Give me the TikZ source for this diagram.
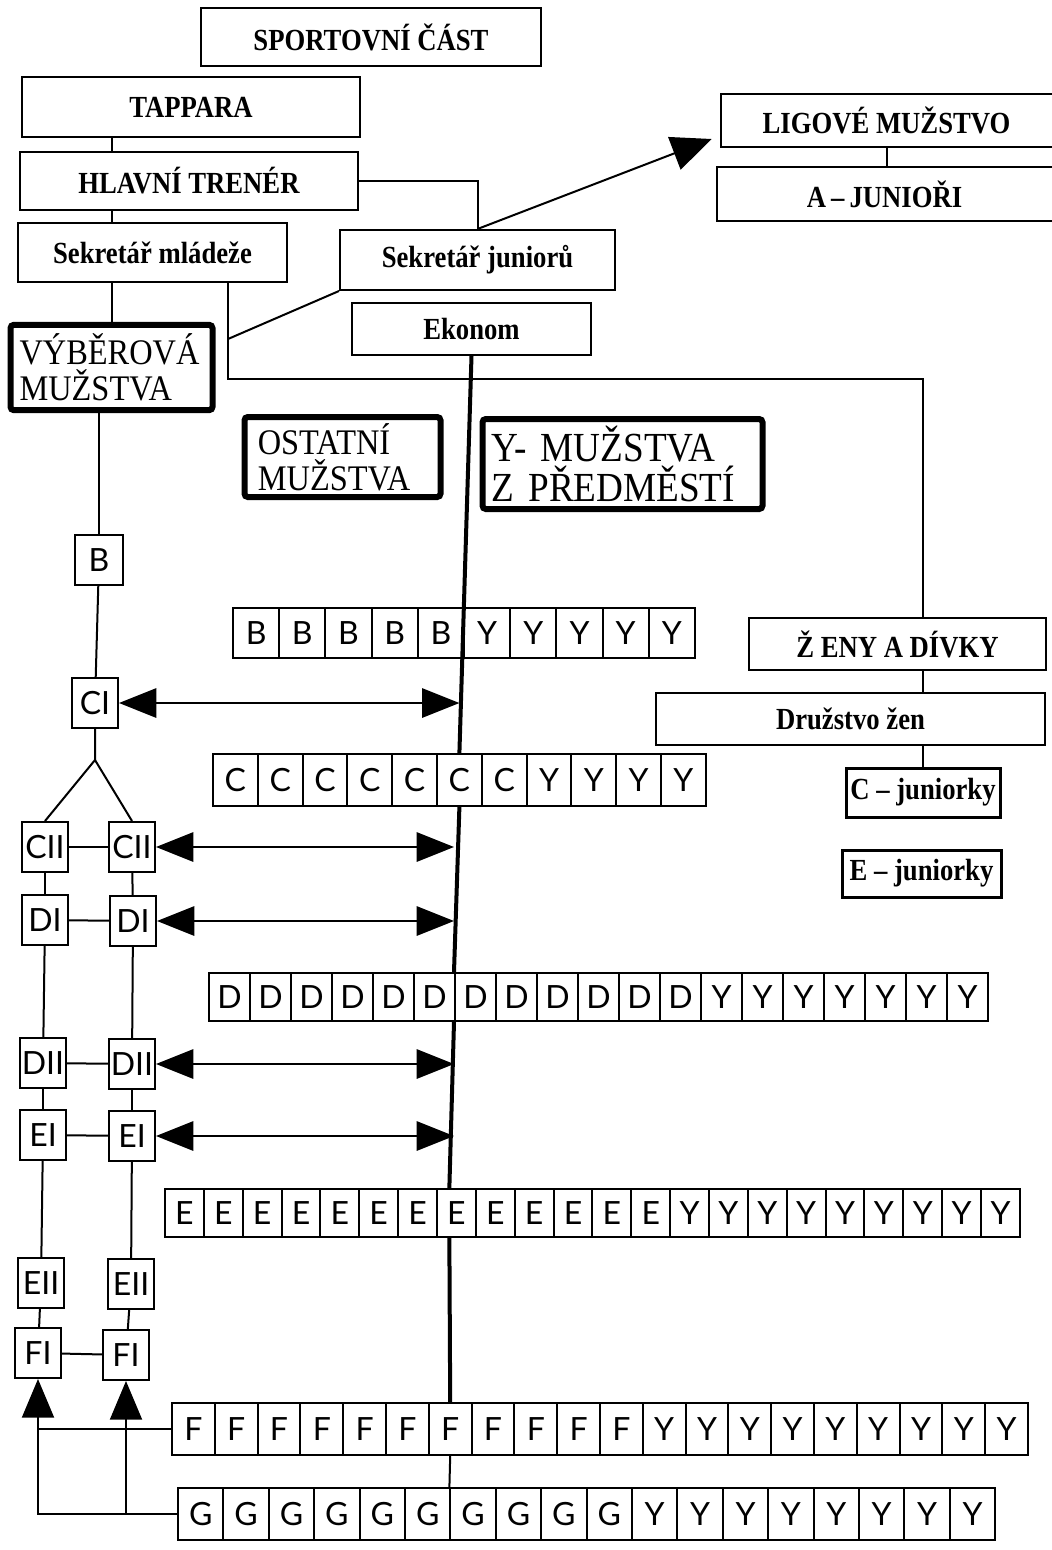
\documentclass[tikz,border=0pt]{standalone}
\usepackage{fontspec}
\setmainfont{Liberation Serif}
\newfontfamily\headfont[FakeStretch=0.87,Ligatures=TeX]{Liberation Serif}
\newfontfamily\bigfont[FakeStretch=0.9,Ligatures=TeX]{Liberation Serif}
\newfontfamily\cellfont{Lato}
\usetikzlibrary{arrows.meta}

\tikzset{every picture/.style={line width=1.5pt}}
\tikzset{
  hbox/.style={draw, fill=white, inner sep=0pt, font=\headfont\bfseries\fontsize{23}{25}\selectfont},
  thickbox/.style={draw, fill=white, line width=4.5pt, rounded corners=2.5pt, align=left, inner ysep=0pt, font=\bigfont\fontsize{27}{27}\selectfont},
  cell/.style={draw, fill=white, inner sep=0pt, font=\cellfont\fontsize{24}{24}\selectfont},
  lbox/.style={draw, fill=white, inner sep=0pt, minimum width=34.5pt, minimum height=37.5pt, font=\cellfont\fontsize{24}{24}\selectfont},
  dblarrow/.style={{Triangle[length=28pt,width=22pt]}-{Triangle[length=28pt,width=22pt]}},
  uptip/.style={-{Triangle[length=29pt,width=24pt]}},
  trunkline/.style={line width=3pt}
}

\begin{document}
\begin{tikzpicture}[x=0.75pt,y=0.75pt,yscale=-1,xscale=1]
	\useasboundingbox (0,0) rectangle (1051,1550);
	
	% Text Node
	\node [hbox, minimum width=255pt, minimum height=43.5pt] (sport) at (371,37) {SPORTOVNÍ ČÁST};
	% Text Node
	\node [hbox, minimum width=253.5pt, minimum height=45pt] (tap) at (191,107) {TAPPARA};
	% Text Node
	\node [hbox, minimum width=253.5pt, minimum height=43.5pt] (hl) at (189,181) {HLAVNÍ TRENÉR};
	% Text Node
	\node [hbox, minimum width=201.75pt, minimum height=44.25pt] (sm) at (152.5,252.5) {Sekretář mládeže};
	% Text Node
	\node [hbox, minimum width=206.25pt, minimum height=45pt] (sj) at (477.5,260) {Sekretář juniorů};
	% Text Node
	\node [hbox, minimum width=179.25pt, minimum height=39pt] (ekonom) at (471.5,329) {Ekonom};
	% Text Node (open at the right edge)
	\node [hbox, draw=none, minimum width=246.75pt, minimum height=38.25pt] (lig) at (886.5,120.5) {LIGOVÉ MUŽSTVO};
	\draw (lig.north east) -| (lig.south west) -- (lig.south east);
	% Text Node (open at the right edge)
	\node [hbox, draw=none, minimum width=249.75pt, minimum height=39pt] (aj) at (884.5,194) {A\,--\,JUNIOŘI};
	\draw (aj.north east) -| (aj.south west) -- (aj.south east);
	% Text Node
	\node [hbox, minimum width=222.75pt, minimum height=39pt] (zeny) at (897.5,644) {Ž ENY A DÍVKY};
	% Text Node
	\node [hbox, minimum width=291.75pt, minimum height=39pt] (dz) at (850.5,719) {Družstvo žen};
	% Text Node
	\node [hbox, line width=2.25pt, minimum width=115.5pt, minimum height=36.75pt] (cj) at (923,792.5) {C -- juniorky};
	% Text Node
	\node [hbox, line width=2.25pt, minimum width=119.25pt, minimum height=35.25pt] (ej) at (921.5,873.5) {E -- juniorky};
	
	% Thick boxes
	\node [thickbox, text width=138pt, inner xsep=6.75pt, minimum height=64pt] (vyb) at (111.5,367.5) {VÝBĚROVÁ\\MUŽSTVA};
	\node [thickbox, text width=127pt, inner xsep=10pt, minimum height=60pt] (ost) at (342.5,457) {OSTATNÍ\\MUŽSTVA};
	\node [thickbox, text width=196pt, inner xsep=7pt, minimum height=67.5pt, font=\bigfont\fontsize{31}{30}\selectfont] (ym) at (622.5,464) {Y- MUŽSTVA\\Z PŘEDMĚSTÍ};
	
	% Left column
	\node [lbox, minimum width=36pt] (bb) at (99,560) {B};
	\node [lbox] (cI) at (95,703) {CI};
	\node [lbox] (cIIa) at (45,847) {CII};
	\node [lbox] (cIIb) at (132,847) {CII};
	\node [lbox] (dIa) at (45,920) {DI};
	\node [lbox] (dIb) at (133,921) {DI};
	\node [lbox] (dIIa) at (43,1063) {DII};
	\node [lbox] (dIIb) at (132,1064) {DII};
	\node [lbox] (eIa) at (43,1135) {EI};
	\node [lbox] (eIb) at (132,1136) {EI};
	\node [lbox] (eIIa) at (41,1283) {EII};
	\node [lbox] (eIIb) at (131,1284) {EII};
	\node [lbox] (fIa) at (38,1353) {FI};
	\node [lbox] (fIb) at (126,1355) {FI};
	
	% Rows of teams
	\foreach \lt [count=\i] in {B,B,B,B,B,Y,Y,Y,Y,Y}
		\node [cell, minimum width=34.65pt, minimum height=37.5pt] (b\i) at ({233+46.2*(\i-0.5)},633) {\lt};
	\foreach \lt [count=\i] in {C,C,C,C,C,C,C,Y,Y,Y,Y}
		\node [cell, minimum width=33.6pt, minimum height=39pt] (c\i) at ({213+44.8*(\i-0.5)},780) {\lt};
	\foreach \lt [count=\i] in {D,D,D,D,D,D,D,D,D,D,D,D,Y,Y,Y,Y,Y,Y,Y}
		\node [cell, minimum width=30.75pt, minimum height=36pt] (d\i) at ({209+41*(\i-0.5)},997) {\lt};
	\foreach \lt [count=\i] in {E,E,E,E,E,E,E,E,E,E,E,E,E,Y,Y,Y,Y,Y,Y,Y,Y,Y}
		\node [cell, minimum width=29.15pt, minimum height=36pt] (e\i) at ({165+38.86*(\i-0.5)},1213) {\lt};
	\foreach \lt [count=\i] in {F,F,F,F,F,F,F,F,F,F,F,Y,Y,Y,Y,Y,Y,Y,Y,Y}
		\node [cell, minimum width=32.1pt, minimum height=39pt] (f\i) at ({172+42.8*(\i-0.5)},1429) {\lt};
	\foreach \lt [count=\i] in {G,G,G,G,G,G,G,G,G,G,Y,Y,Y,Y,Y,Y,Y,Y}
		\node [cell, minimum width=34.05pt, minimum height=39pt] (g\i) at ({178+45.4*(\i-0.5)},1514) {\lt};
	
	%Straight Lines
	\draw (vyb.north |- tap.south) -- (vyb.north |- hl.north);
	\draw (vyb.north |- hl.south) -- (vyb.north |- sm.north);
	\draw (vyb.north |- sm.south) -- (vyb.north);
	\draw (hl.east) -| (sj.north);
	\draw ([xshift=-45pt,yshift=42pt]sm.south east) -- (sj.south west);
	\draw [-{Triangle[length=30pt,width=26pt]}] (sj.north) -- ([xshift=-7pt,yshift=-6pt]lig.south west);
	\draw (lig.south) -- (lig.south |- aj.north);
	\draw ([xshift=-45pt]sm.south east) -- ++(0,96) -| (cj.north |- zeny.north);
	\draw (cj.north |- zeny.south) -- (cj.north |- dz.north);
	\draw (cj.north |- dz.south) -- (cj.north);
	
	%Trunk from Ekonom
	\draw [trunkline] (ekonom.south) -- (c6.north);
	\draw [trunkline] (c6.south) -- (d7.north west);
	\draw [trunkline] (d7.south west) -- ([xshift=10pt]e8.north west);
	\draw [trunkline] ([xshift=10pt]e8.south west) -- (f7.north);
	\draw (f7.south) -- (g7.north west);
	
	%Left chain
	\coordinate (split) at (95,760);
	\draw (bb.north |- vyb.south) -- (bb.north);
	\draw (bb) -- (cI);
	\draw (cI.south) -- (split) -- (cIIa.north);
	\draw (split) -- (cIIb.north);
	\draw (cIIa) -- (cIIb);
	\draw (dIa) -- (dIb);
	\draw (dIIa) -- (dIIb);
	\draw (eIa) -- (eIb);
	\draw (fIa) -- (fIb);
	\draw (cIIa) -- (dIa);
	\draw (dIa) -- (dIIa);
	\draw (dIIa) -- (eIa);
	\draw (eIa) -- (eIIa);
	\draw (eIIa) -- (fIa);
	\draw (cIIb) -- (dIb);
	\draw (dIb) -- (dIIb);
	\draw (dIIb) -- (eIb);
	\draw (eIb) -- (eIIb);
	\draw (eIIb) -- (fIb);
	
	%Double arrows to the trunk
	\draw [dblarrow] (cI.east) -- (cI.east -| c6.north);
	\draw [dblarrow] (cIIb.east) -- (cIIb.east -| d7.north west);
	\draw [dblarrow] (dIb.east) -- (dIb.east -| d7.north west);
	\draw [dblarrow] (dIIb.east) -- (dIIb.east -| d7.south west);
	\draw [dblarrow] (eIb.east) -- (eIb.east -| d7.south west);
	
	%Arrows up from F and G rows
	\draw (f1.west) -- (f1.west -| fIa.south);
	\draw [uptip] (g1.west) -| (fIa.south);
	\draw [uptip] (g1.west -| fIb.south) -- (fIb.south);
	
\end{tikzpicture}
\end{document}
